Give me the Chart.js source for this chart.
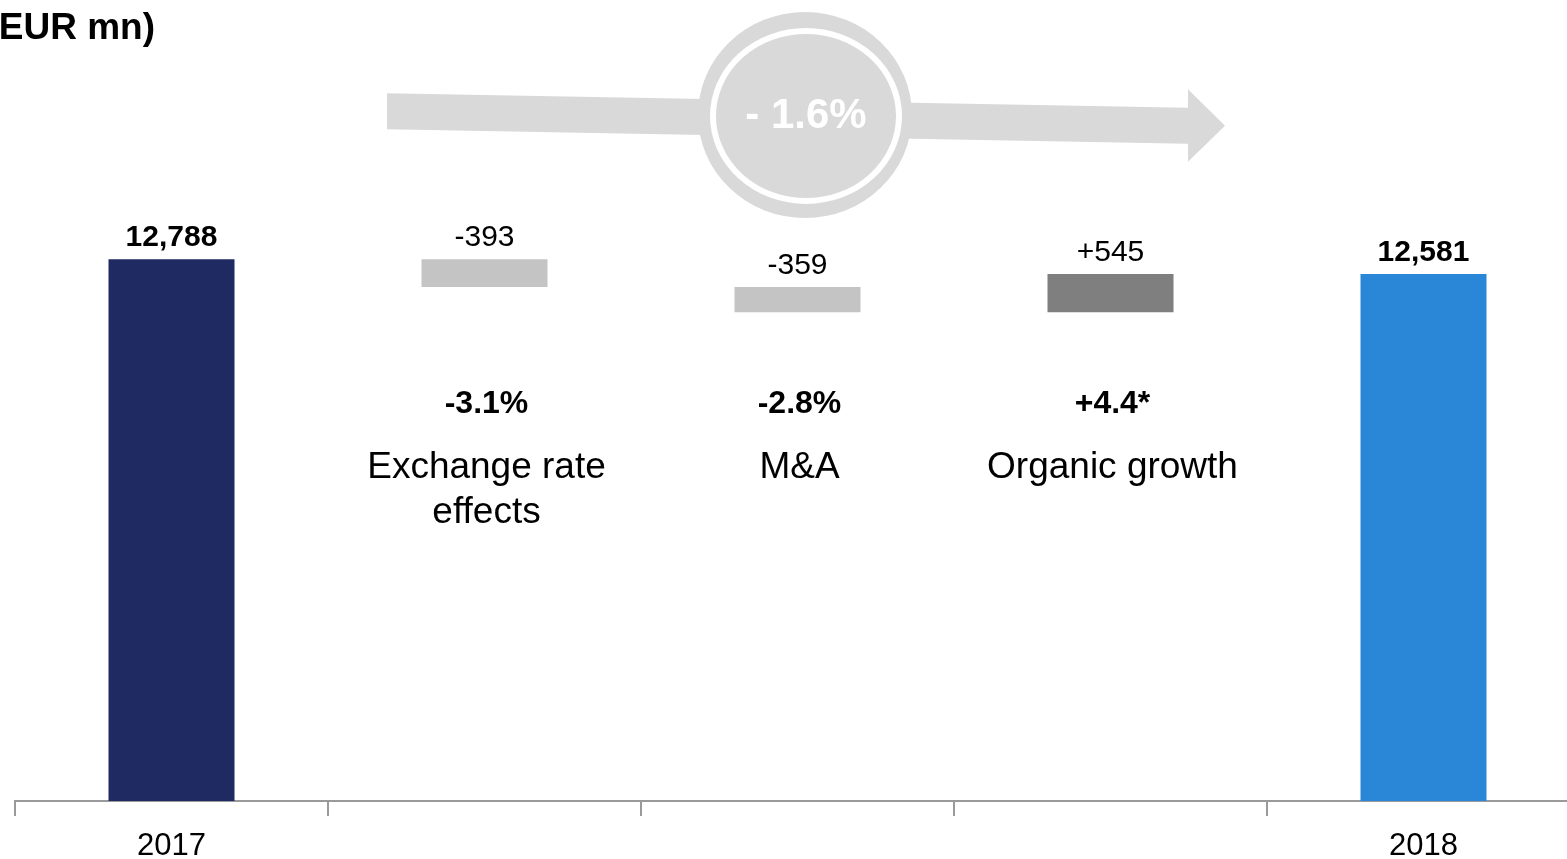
<!DOCTYPE html>
<html>
<head>
<meta charset="utf-8">
<title>Sales bridge 2017 – 2018</title>
<script src="https://cdn.jsdelivr.net/npm/chart.js@4/dist/chart.umd.min.js"></script>
<style>
  html, body { margin: 0; padding: 0; width: 1567px; height: 859px; overflow: hidden; background: #fff; }
  #wrap { position: absolute; left: -40px; top: 0; width: 1640px; height: 859px; }
</style>
</head>
<body>
<div id="wrap"><canvas id="bridge" width="1640" height="859"></canvas></div>
<script>
// ---- data -------------------------------------------------------------
const categories   = [['2017'], ['Exchange rate', 'effects'], ['M&A'], ['Organic growth'], ['2018']];
const startValue   = 12788;
const endValue     = 12581;
const changes      = [-393, -359, 545];
const changeShares = ['-3.1%', '-2.8%', '+4.4*'];
const totalChange  = '- 1.6%';
const unitTitle    = '(EUR mn)';

// ---- derived bridge bars ------------------------------------------------
const bars = [startValue];
const valueLabels = [startValue.toLocaleString('en-US')];
let running = startValue;
changes.forEach(d => {
  const next = running + d;
  bars.push([Math.min(running, next), Math.max(running, next)]);
  valueLabels.push((d > 0 ? '+' : '') + d.toString());
  running = next;
});
bars.push(endValue);
valueLabels.push(endValue.toLocaleString('en-US'));

const barColors = ['#1f2a63', '#c4c4c4', '#c4c4c4', '#7f7f7f', '#2a86d6'];
const FONT = "'Liberation Sans', Arial, sans-serif";
const SHIFT = 40; // canvas sits 40px left of the page edge

// ---- overlay drawing: labels, title and the overall-change arrow ---------
const overlay = {
  id: 'overlay',
  afterDatasetsDraw(chart) {
    const ctx = chart.ctx;
    const meta = chart.getDatasetMeta(0);
    const X = x => x + SHIFT;

    ctx.save();

    // unit title
    ctx.fillStyle = '#000';
    ctx.font = `bold 37px ${FONT}`;
    ctx.textAlign = 'right';
    ctx.textBaseline = 'alphabetic';
    ctx.fillText(unitTitle, X(155), 39);

    // overall change arrow
    ctx.fillStyle = '#d9d9d9';
    ctx.beginPath();
    ctx.moveTo(X(387), 93.3);
    ctx.lineTo(X(1188), 107.7);
    ctx.lineTo(X(1188), 89.3);
    ctx.lineTo(X(1225), 125.7);
    ctx.lineTo(X(1188), 161.7);
    ctx.lineTo(X(1188), 143.7);
    ctx.lineTo(X(387), 129.3);
    ctx.closePath();
    ctx.fill();

    ctx.beginPath();
    ctx.ellipse(X(805), 115, 107, 103, 0, 0, Math.PI * 2);
    ctx.fill();
    ctx.strokeStyle = '#ffffff';
    ctx.lineWidth = 6;
    ctx.beginPath();
    ctx.ellipse(X(806), 116, 93, 85, 0, 0, Math.PI * 2);
    ctx.stroke();

    ctx.fillStyle = '#ffffff';
    ctx.font = `bold 42px ${FONT}`;
    ctx.textAlign = 'center';
    ctx.fillText(totalChange, X(806), 128);

    // value labels above each bar
    ctx.fillStyle = '#000';
    meta.data.forEach((el, i) => {
      const top = Math.min(el.y, el.base);
      const isTotal = !Array.isArray(bars[i]);
      ctx.font = `${isTotal ? 'bold ' : ''}30px ${FONT}`;
      ctx.fillText(valueLabels[i], el.x, top - 13);
    });

    // share of change and category names for the bridge steps
    changes.forEach((d, k) => {
      const el = meta.data[k + 1];
      ctx.font = `bold 32px ${FONT}`;
      ctx.fillText(changeShares[k], el.x + 2, 413);
      ctx.font = `37px ${FONT}`;
      categories[k + 1].forEach((line, j) => {
        ctx.fillText(line, el.x + 2, 478 + j * 45);
      });
    });

    ctx.restore();
  }
};

new Chart(document.getElementById('bridge'), {
  type: 'bar',
  data: {
    labels: categories.map(c => c.join(' ')),
    datasets: [{
      data: bars,
      backgroundColor: barColors,
      borderWidth: 0,
      categoryPercentage: 1,
      barPercentage: 0.4026
    }]
  },
  options: {
    responsive: false,
    animation: false,
    devicePixelRatio: 1,
    layout: { padding: { left: 55, right: 20, top: 100, bottom: 0 } },
    plugins: { legend: { display: false }, tooltip: { enabled: false } },
    scales: {
      x: {
        offset: true,
        grid: { offset: true, drawOnChartArea: false, drawTicks: true, tickLength: 15, color: '#9a9a9a', lineWidth: 2 },
        border: { display: true, color: '#9a9a9a', width: 2 },
        ticks: {
          padding: 12,
          color: '#000',
          maxRotation: 0,
          autoSkip: false,
          font: { family: FONT, size: 31, lineHeight: 1.2 },
          callback: (v, i) => (i === 0 || i === categories.length - 1) ? categories[i][0] : ''
        },
        afterFit: s => { s.height = 58; }
      },
      y: { display: false, min: 5100, max: 15050 }
    }
  },
  plugins: [overlay]
});
</script>
</body>
</html>
